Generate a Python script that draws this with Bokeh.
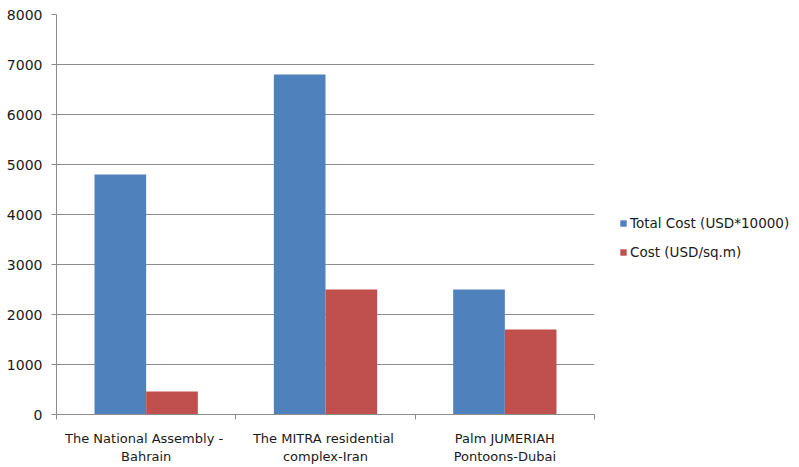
from bokeh.plotting import figure
from bokeh.models import Range1d, FixedTicker, Legend, LegendItem, ColumnDataSource
from bokeh.transform import dodge
from bokeh.embed import file_html
from bokeh.resources import INLINE

categories = ["The National  Assembly -\nBahrain", "The MITRA  residential\ncomplex-Iran", "Palm JUMERIAH\nPontoons-Dubai"]
total_cost = [4800, 6800, 2500]
cost_sqm = [460, 2500, 1700]
series_names = ["Total Cost (USD*10000)", "Cost (USD/sq.m)"]
y_ticks = [0, 1000, 2000, 3000, 4000, 5000, 6000, 7000, 8000]

pos = [i + 0.5 for i in range(len(categories))]
src = ColumnDataSource(dict(x=pos, total=total_cost, cost=cost_sqm))

FONT = "DejaVu Sans"
p = figure(frame_width=538, frame_height=400, output_backend="svg", toolbar_location=None,
           x_range=Range1d(0, len(categories)), y_range=Range1d(0, 8000),
           min_border_left=56, min_border_right=190, min_border_top=14, min_border_bottom=51)
p.outline_line_color = None
bw = 0.288
r1 = p.vbar(x=dodge("x", -bw / 2, range=p.x_range), top="total", width=bw, source=src,
            fill_color="#4F81BD", line_color=None)
r2 = p.vbar(x=dodge("x", bw / 2, range=p.x_range), top="cost", width=bw, source=src,
            fill_color="#C0504D", line_color=None)

p.xgrid.grid_line_color = None
p.ygrid.grid_line_color = "#8c8c8c"
p.ygrid.ticker = FixedTicker(ticks=y_ticks)

ya = p.yaxis[0]
ya.ticker = FixedTicker(ticks=y_ticks)
ya.axis_line_color = "#8c8c8c"
ya.major_tick_line_color = "#8c8c8c"
ya.major_tick_in = 0
ya.major_tick_out = 5
ya.minor_tick_line_color = None
ya.major_label_text_font = FONT
ya.major_label_text_font_size = "14px"
ya.major_label_text_color = "#1a1a1a"
ya.major_label_standoff = 9

xa = p.xaxis[0]
xa.ticker = FixedTicker(ticks=pos, minor_ticks=list(range(len(categories) + 1)))
xa.major_label_overrides = {pos[i]: categories[i] for i in range(len(categories))}
xa.axis_line_color = "#8c8c8c"
xa.major_tick_line_color = None
xa.minor_tick_line_color = "#8c8c8c"
xa.minor_tick_in = 0
xa.minor_tick_out = 5
xa.major_label_text_font = FONT
xa.major_label_text_font_size = "13px"
xa.major_label_text_color = "#1a1a1a"
xa.major_label_standoff = 10

legend = Legend(items=[LegendItem(label=series_names[0], renderers=[r1]),
                       LegendItem(label=series_names[1], renderers=[r2])],
                location=(25, 154), orientation="vertical")
legend.border_line_color = None
legend.background_fill_alpha = 0
legend.padding = 0
legend.margin = 0
legend.spacing = 13
legend.glyph_width = 8
legend.glyph_height = 8
legend.label_standoff = 3
legend.label_text_font = FONT
legend.label_text_font_size = "13.5px"
legend.label_text_color = "#1a1a1a"
legend.label_height = 16
p.add_layout(legend, "right")

open("out.html", "w").write(file_html(p, INLINE))
